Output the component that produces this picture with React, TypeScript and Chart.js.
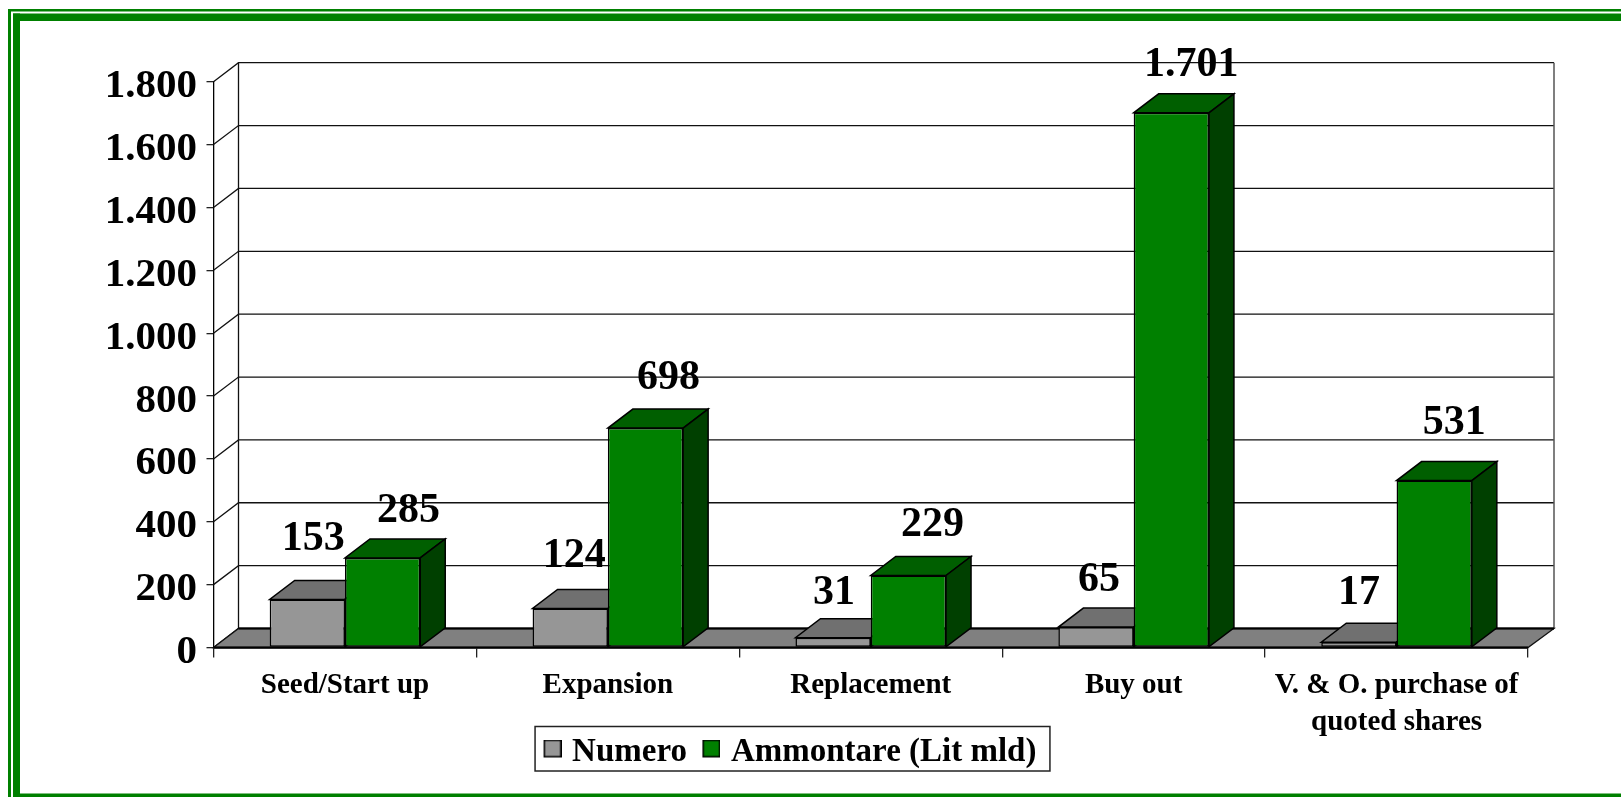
import React, { useEffect, useRef } from "react";
import { Chart, registerables } from "chart.js";

Chart.register(...registerables);

const categories: (string | string[])[] = [
  "Seed/Start up",
  "Expansion",
  "Replacement",
  "Buy out",
  ["V. & O. purchase of", "quoted shares"],
];
const numero = [153, 124, 31, 65, 17];
const ammontare = [285, 698, 229, 1701, 531];
const seriesNames = ["Numero", "Ammontare (Lit mld)"];

// hand-placed data label nudges (relative to the bar's top centre)
const numeroLabelDx = [6, 4, 1, 3, 0];
const numeroLabelDy = [-60, -52, -45, -47, -49];
const ammontareLabelDx = [26, 23, 24, 20, 20];
const ammontareLabelDy = [-47, -50, -50, -48, -57];

const DEPTH_X = 25;
const DEPTH_Y = 19;
const FONT = '"Liberation Serif", "Times New Roman", serif';
const GREEN = "#008000";

const fmt = (v: number) => String(v).replace(/\B(?=(\d{3})+(?!\d))/g, ".");

const faces = [
  { front: "#969696", top: "#707070", side: "#5c5c5c" },
  { front: GREEN, top: "#005f00", side: "#004000" },
];

function poly(ctx: CanvasRenderingContext2D, pts: number[][], fill: string | null, stroke: string, lw = 1.5) {
  ctx.beginPath();
  pts.forEach((p, i) => (i ? ctx.lineTo(p[0], p[1]) : ctx.moveTo(p[0], p[1])));
  ctx.closePath();
  if (fill) {
    ctx.fillStyle = fill;
    ctx.fill();
  }
  ctx.strokeStyle = stroke;
  ctx.lineWidth = lw;
  ctx.stroke();
}

const framePlugin = {
  id: "frame",
  beforeDraw(chart: any) {
    const ctx = chart.ctx;
    const W = chart.width;
    const H = chart.height;
    ctx.save();
    ctx.fillStyle = "#fff";
    ctx.fillRect(0, 0, W, H);
    ctx.fillStyle = GREEN;
    ctx.fillRect(8, 9, W, 2.5);
    ctx.fillRect(8, 9, 3, H);
    ctx.fillRect(13, 13.5, W, 7.5);
    ctx.fillRect(13, 13.5, 7, H);
    ctx.fillRect(13, 793.5, W, 4);
    ctx.restore();
    // let the two-line category label extend past the x scale's box,
    // and sit the value-axis labels slightly below their ticks
    chart.scales.x.bottom = H;
    chart.scales.y.getLabelItems(chart.chartArea).forEach((item: any) => {
      if (!item.__moved) {
        const t = item.options.translation;
        item.options.translation = [t[0], t[1] + 5];
        item.__moved = true;
      }
    });
  },
};

const box3dPlugin = {
  id: "box3d",
  beforeDatasetsDraw(chart: any) {
    const { ctx, chartArea: a, scales } = chart;
    const y = scales.y;
    ctx.save();
    const L = a.left;
    const R = a.right;
    const B = a.bottom;
    // back wall + left wall lines
    ctx.lineCap = "butt";
    y.ticks.forEach((t: any) => {
      const py = y.getPixelForValue(t.value);
      ctx.beginPath();
      ctx.moveTo(L, py);
      ctx.lineTo(L + DEPTH_X, py - DEPTH_Y);
      ctx.lineTo(R + DEPTH_X + 1, py - DEPTH_Y);
      ctx.strokeStyle = "#111";
      ctx.lineWidth = 1.3;
      ctx.stroke();
    });
    const topY = y.getPixelForValue(y.max);
    ctx.beginPath();
    ctx.moveTo(L + DEPTH_X, topY - DEPTH_Y);
    ctx.lineTo(L + DEPTH_X, B - DEPTH_Y);
    ctx.strokeStyle = "#111";
    ctx.stroke();
    ctx.beginPath();
    ctx.moveTo(R + DEPTH_X + 1, topY - DEPTH_Y);
    ctx.lineTo(R + DEPTH_X + 1, B - DEPTH_Y);
    ctx.strokeStyle = "#555";
    ctx.lineWidth = 1.5;
    ctx.stroke();
    // floor
    poly(
      ctx,
      [
        [L, B],
        [R, B],
        [R + DEPTH_X + 1, B - DEPTH_Y],
        [L + DEPTH_X, B - DEPTH_Y],
      ],
      "#808080",
      "#111",
      1.3
    );
    ctx.beginPath();
    ctx.moveTo(L + DEPTH_X, B - DEPTH_Y);
    ctx.lineTo(R + DEPTH_X + 1, B - DEPTH_Y);
    ctx.strokeStyle = "#000";
    ctx.lineWidth = 2;
    ctx.stroke();
    // depth faces of the bars; fronts are drawn by the library afterwards
    [0, 1].forEach((di) => {
      const meta = chart.getDatasetMeta(di);
      meta.data.forEach((el: any) => {
        const x0 = el.x - el.width / 2;
        const x1 = el.x + el.width / 2;
        const t = el.y;
        const b = el.base;
        poly(
          ctx,
          [
            [x0, t],
            [x1, t],
            [x1 + DEPTH_X, t - DEPTH_Y],
            [x0 + DEPTH_X, t - DEPTH_Y],
          ],
          faces[di].top,
          "#000"
        );
        poly(
          ctx,
          [
            [x1, t],
            [x1 + DEPTH_X, t - DEPTH_Y],
            [x1 + DEPTH_X, b - DEPTH_Y],
            [x1, b],
          ],
          faces[di].side,
          "#000"
        );
      });
    });
    ctx.restore();
  },
  afterDatasetsDraw(chart: any) {
    const { ctx, chartArea: a } = chart;
    ctx.save();
    // front floor edge
    ctx.beginPath();
    ctx.moveTo(a.left, a.bottom);
    ctx.lineTo(a.right, a.bottom);
    ctx.strokeStyle = "#000";
    ctx.lineWidth = 2;
    ctx.stroke();
    // data labels
    ctx.font = `bold 42px ${FONT}`;
    ctx.fillStyle = "#000";
    ctx.textAlign = "center";
    ctx.textBaseline = "middle";
    const dx = [numeroLabelDx, ammontareLabelDx];
    const dy = [numeroLabelDy, ammontareLabelDy];
    [0, 1].forEach((di) => {
      const meta = chart.getDatasetMeta(di);
      const data = chart.data.datasets[di].data;
      meta.data.forEach((el: any, i: number) => {
        ctx.fillText(fmt(data[i]), el.x + dx[di][i], el.y + dy[di][i]);
      });
    });
    ctx.restore();
  },
  afterDraw(chart: any) {
    const boxes = chart.legend?.legendHitBoxes;
    if (!boxes?.length) return;
    const ctx = chart.ctx;
    const first = boxes[0];
    const last = boxes[boxes.length - 1];
    const cy = first.top + first.height / 2;
    ctx.save();
    ctx.strokeStyle = "#222";
    ctx.lineWidth = 1.5;
    ctx.strokeRect(first.left - 12.5, cy - 26, last.left + last.width - first.left + 26, 44.5);
    ctx.restore();
  },
};

// the swatch sits a little above the text's middle, as in the picture
function swatch(fill: string) {
  const c = document.createElement("canvas");
  c.width = 20;
  c.height = 26;
  const x = c.getContext("2d")!;
  x.fillStyle = fill;
  x.fillRect(2, 0, 18, 18);
  x.strokeStyle = "#000";
  x.lineWidth = 1.5;
  x.strokeRect(2.75, 0.75, 16.5, 16.5);
  return c;
}

export default function App() {
  const ref = useRef<HTMLCanvasElement>(null);
  useEffect(() => {
    const swatches = [swatch(faces[0].front), swatch(faces[1].front)];
    const chart = new Chart(ref.current!, {
      type: "bar",
      data: {
        labels: categories as any,
        datasets: [
          {
            label: seriesNames[0],
            data: numero,
            backgroundColor: faces[0].front,
            borderColor: "#000",
            borderWidth: 1.5,
            borderSkipped: false,
          },
          {
            label: seriesNames[1],
            data: ammontare,
            backgroundColor: faces[1].front,
            borderColor: "#000",
            borderWidth: 1.5,
            borderSkipped: false,
          },
        ],
      },
      plugins: [framePlugin, box3dPlugin],
      options: {
        responsive: false,
        animation: false,
        devicePixelRatio: 1,
        layout: { padding: { left: 56, right: 93, top: 81.7, bottom: 18 } },
        datasets: { bar: { barPercentage: 1, categoryPercentage: 0.5727 } },
        plugins: {
          tooltip: { enabled: false },
          title: { display: false },
          legend: {
            display: true,
            position: "bottom",
            labels: {
              usePointStyle: true,
              pointStyleWidth: 8,
              boxHeight: 18,
              padding: 19.5,
              color: "#000",
              font: { family: FONT, size: 33, weight: "bold" },
              generateLabels: () =>
                seriesNames.map((text, i) => ({
                  text,
                  fillStyle: faces[i].front,
                  strokeStyle: "#000",
                  lineWidth: 0,
                  pointStyle: swatches[i],
                  datasetIndex: i,
                  hidden: false,
                })),
            },
          },
        },
        scales: {
          x: {
            type: "category",
            afterFit(s: any) {
              s.height = 69;
              s.paddingLeft = 0;
              s.paddingRight = 0;
            },
            border: { color: "#000", width: 1.5 },
            grid: { drawOnChartArea: false, tickLength: 10, color: "#222", lineWidth: 1.3 },
            ticks: {
              autoSkip: false,
              maxRotation: 0,
              minRotation: 0,
              padding: 9,
              color: "#000",
              font: { family: FONT, size: 29, weight: "bold", lineHeight: 1.28 },
            },
          },
          y: {
            min: 0,
            max: 1800,
            afterFit(s: any) {
              s.width = 157.5;
              s.paddingTop = 0;
              s.paddingBottom = 0;
            },
            border: { color: "#000", width: 1.3 },
            grid: { drawOnChartArea: false, tickLength: 7, color: "#222", lineWidth: 1.3 },
            ticks: {
              stepSize: 200,
              padding: 9.5,
              color: "#000",
              font: { family: FONT, size: 41, weight: "bold" },
              callback: (v: any) => fmt(Number(v)),
            },
          },
        },
      } as any,
    });
    return () => chart.destroy();
  }, []);
  return (
    <div style={{ position: "absolute", left: 0, top: 0, width: 1621, height: 797, background: "#fff" }}>
      <canvas ref={ref} width={1621} height={797} style={{ display: "block" }} />
    </div>
  );
}
